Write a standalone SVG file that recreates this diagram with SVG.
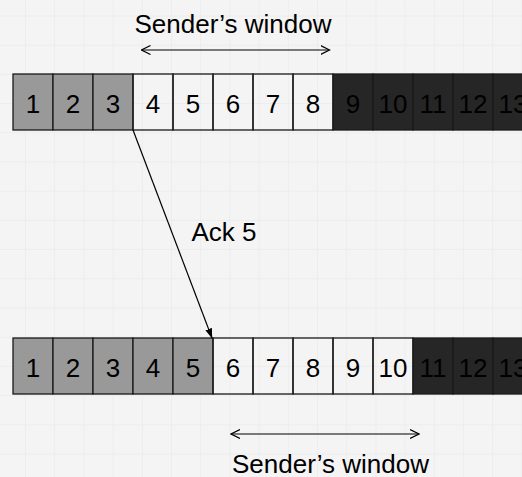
<svg xmlns="http://www.w3.org/2000/svg" width="522" height="477" viewBox="0 0 522 477">
<style>
.b{stroke:#1a1a1a;stroke-width:1.3}
.g{fill:#999999}
.d{fill:#262626}
.w{fill:none}
.t{font-family:"Liberation Sans",Arial,sans-serif;font-size:26px;fill:#000;text-anchor:middle}
.lbl{font-family:"Liberation Sans",Arial,sans-serif;font-size:26px;fill:#000}
.c{stroke:#000;stroke-width:1.2;fill:none}
</style>
<defs>
<pattern id="grid" patternUnits="userSpaceOnUse" x="25" y="15.5" width="29.2" height="29.2">
<path d="M0 0H29.2M0 0V29.2" stroke="#e6e6e6" stroke-width="1" fill="none"/>
</pattern>
<marker id="open" viewBox="0 0 10 10" refX="9" refY="5" markerWidth="10" markerHeight="10" markerUnits="userSpaceOnUse" orient="auto-start-reverse">
<path d="M0 0.5L9 5L0 9.5" fill="none" stroke="#000" stroke-width="1.2"/>
</marker>
<marker id="fill" viewBox="0 0 10 8" refX="9.5" refY="4" markerWidth="10" markerHeight="8" markerUnits="userSpaceOnUse" orient="auto">
<path d="M0 0.5L10 4L0 7.5Z" fill="#000"/>
</marker>
</defs>
<rect width="522" height="477" fill="#f4f4f4"/>
<rect width="522" height="477" fill="url(#grid)"/>

<g id="top-row">
<g id="t1"><rect class="b g" x="13" y="74" width="40" height="56"/><text class="t" x="33" y="113">1</text></g>
<g id="t2"><rect class="b g" x="53" y="74" width="40" height="56"/><text class="t" x="73" y="113">2</text></g>
<g id="t3"><rect class="b g" x="93" y="74" width="40" height="56"/><text class="t" x="113" y="113">3</text></g>
<g id="t4"><rect class="b w" x="133" y="74" width="40" height="56"/><text class="t" x="153" y="113">4</text></g>
<g id="t5"><rect class="b w" x="173" y="74" width="40" height="56"/><text class="t" x="193" y="113">5</text></g>
<g id="t6"><rect class="b w" x="213" y="74" width="40" height="56"/><text class="t" x="233" y="113">6</text></g>
<g id="t7"><rect class="b w" x="253" y="74" width="40" height="56"/><text class="t" x="273" y="113">7</text></g>
<g id="t8"><rect class="b w" x="293" y="74" width="40" height="56"/><text class="t" x="313" y="113">8</text></g>
<g id="t9"><rect class="b d" x="333" y="74" width="40" height="56"/><text class="t" x="353" y="113">9</text></g>
<g id="t10"><rect class="b d" x="373" y="74" width="40" height="56"/><text class="t" x="393" y="113">10</text></g>
<g id="t11"><rect class="b d" x="413" y="74" width="40" height="56"/><text class="t" x="433" y="113">11</text></g>
<g id="t12"><rect class="b d" x="453" y="74" width="40" height="56"/><text class="t" x="473" y="113">12</text></g>
<g id="t13"><rect class="b d" x="493" y="74" width="40" height="56"/><text class="t" x="513" y="113">13</text></g>
</g>

<g id="bottom-row">
<g id="b1"><rect class="b g" x="13" y="338" width="40" height="56"/><text class="t" x="33" y="377">1</text></g>
<g id="b2"><rect class="b g" x="53" y="338" width="40" height="56"/><text class="t" x="73" y="377">2</text></g>
<g id="b3"><rect class="b g" x="93" y="338" width="40" height="56"/><text class="t" x="113" y="377">3</text></g>
<g id="b4"><rect class="b g" x="133" y="338" width="40" height="56"/><text class="t" x="153" y="377">4</text></g>
<g id="b5"><rect class="b g" x="173" y="338" width="40" height="56"/><text class="t" x="193" y="377">5</text></g>
<g id="b6"><rect class="b w" x="213" y="338" width="40" height="56"/><text class="t" x="233" y="377">6</text></g>
<g id="b7"><rect class="b w" x="253" y="338" width="40" height="56"/><text class="t" x="273" y="377">7</text></g>
<g id="b8"><rect class="b w" x="293" y="338" width="40" height="56"/><text class="t" x="313" y="377">8</text></g>
<g id="b9"><rect class="b w" x="333" y="338" width="40" height="56"/><text class="t" x="353" y="377">9</text></g>
<g id="b10"><rect class="b w" x="373" y="338" width="40" height="56"/><text class="t" x="393" y="377">10</text></g>
<g id="b11"><rect class="b d" x="413" y="338" width="40" height="56"/><text class="t" x="433" y="377">11</text></g>
<g id="b12"><rect class="b d" x="453" y="338" width="40" height="56"/><text class="t" x="473" y="377">12</text></g>
<g id="b13"><rect class="b d" x="493" y="338" width="40" height="56"/><text class="t" x="513" y="377">13</text></g>
</g>

<g id="labels">
<text id="top-label" class="lbl" x="233" y="33" text-anchor="middle">Sender’s window</text>
<text id="ack-label" class="lbl" x="191.5" y="241">Ack 5</text>
<text id="bottom-label" class="lbl" x="330.5" y="472.5" text-anchor="middle">Sender’s window</text>
</g>

<g id="connectors">
<line class="c" x1="141.5" y1="50" x2="329.5" y2="50" marker-start="url(#open)" marker-end="url(#open)"/>
<line class="c" x1="231" y1="434" x2="419" y2="434" marker-start="url(#open)" marker-end="url(#open)"/>
<line class="c" x1="133" y1="130" x2="212" y2="338" stroke-width="1" marker-end="url(#fill)"/>
</g>
</svg>
